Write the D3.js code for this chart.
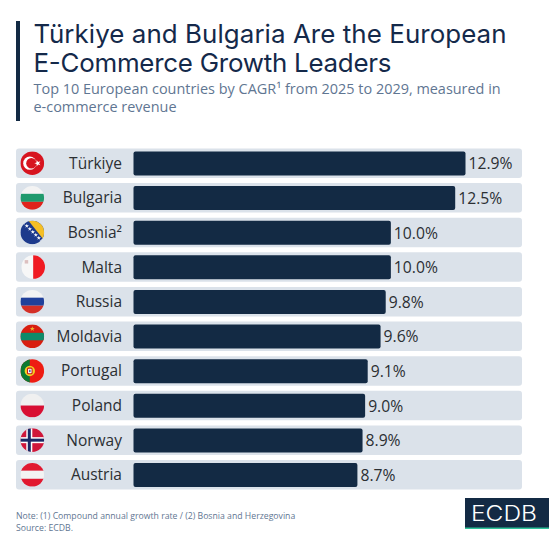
<!DOCTYPE html>
<html>
<head>
<meta charset="utf-8">
<script src="https://cdn.jsdelivr.net/npm/d3@7"></script>
<style>
    html, body { margin: 0; padding: 0; background: #fff; }
    svg { display: block; }
    .title { font-family: Inter, sans-serif; font-size: 25.9px; font-weight: 400; fill: #14294a; }
    .subtitle { font-family: "Open Sans", sans-serif; font-size: 14.45px; fill: #5f7692; }
    .note { font-family: "Open Sans", sans-serif; font-size: 8.7px; fill: #5f7692; }
    .country text { font-family: "Open Sans", sans-serif; font-size: 15.5px; fill: #2b2f33; }
    .value { font-family: "Open Sans", sans-serif; font-size: 15.7px; fill: #2b2f33; }
</style>
</head>
<body>
<script>
// Chart values
const countries = ["Türkiye", "Bulgaria", "Bosnia²", "Malta", "Russia", "Moldavia", "Portugal", "Poland", "Norway", "Austria"];
const cagr = [12.9, 12.5, 10.0, 10.0, 9.8, 9.6, 9.1, 9.0, 8.9, 8.7];

const titleLines = ["Türkiye and Bulgaria Are the European", "E-Commerce Growth Leaders"];
const subtitleLines = ["Top 10 European countries by CAGR¹ from 2025 to 2029, measured in", "e-commerce revenue"];
const noteLines = ["Note: (1) Compound annual growth rate / (2) Bosnia and Herzegovina", "Source: ECDB."];

const navy = "#132a44";
const rowColor = "#dbe2ea";

const svg = d3.select("body").append("svg").attr("width", 549).attr("height", 534);

// Header
svg.append("rect").attr("x", 16).attr("y", 21).attr("width", 4).attr("height", 100).attr("fill", navy);

// the original title font is a bit wider on line 1 than on line 2, so fix both lengths
const titleWidths = [473, 358];
svg.selectAll(".title").data(titleLines).join("text")
    .attr("class", "title")
    .attr("x", 33.5)
    .attr("y", (d, i) => 43 + i * 28.7)
    .attr("textLength", (d, i) => titleWidths[i])
    .text(d => d);

svg.selectAll(".subtitle").data(subtitleLines).join("text")
    .attr("class", "subtitle")
    .attr("x", 33.5)
    .attr("y", (d, i) => 94 + i * 18)
    .text(d => d);

// Scales
const y = d3.scaleBand().domain(countries).range([148.5, 489.5]).paddingInner(0.15).paddingOuter(0);
const x = d3.scaleLinear().domain([0, 12.9]).range([133.5, 465.5]);

// Rows behind the bars
svg.selectAll(".row").data(countries).join("rect")
    .attr("class", "row")
    .attr("x", 16)
    .attr("y", d => y(d))
    .attr("width", 506)
    .attr("height", y.bandwidth())
    .attr("rx", 3)
    .attr("fill", rowColor);

// Bars
const barGap = 3;
svg.selectAll(".bar").data(cagr).join("rect")
    .attr("class", "bar")
    .attr("x", x(0))
    .attr("y", (d, i) => y(countries[i]) + barGap)
    .attr("width", d => x(d) - x(0))
    .attr("height", y.bandwidth() - barGap * 2 + 0.5)
    .attr("rx", 2)
    .attr("fill", navy);

svg.selectAll(".value").data(cagr).join("text")
    .attr("class", "value")
    .attr("x", d => x(d) + 3)
    .attr("y", (d, i) => y(countries[i]) + y.bandwidth() / 2 + 0.5)
    .attr("dy", "0.36em")
    .text(d => d.toFixed(1) + "%");

// Country labels
svg.append("g")
    .attr("class", "country")
    .attr("transform", "translate(122,0.5)")
    .call(d3.axisLeft(y).tickSize(0).tickPadding(0))
    .call(g => g.select(".domain").remove());

// Flags, each one drawn in a box of 24x24 and clipped to a circle
const stripes = (g, colors) => {
    colors.forEach((c, i) => {
        g.append("rect").attr("x", -12).attr("y", -12 + i * 24 / colors.length)
            .attr("width", 24).attr("height", 24 / colors.length).attr("fill", c);
    });
};

const flags = {
    "Türkiye": g => {
        g.append("rect").attr("x", -12).attr("y", -12).attr("width", 24).attr("height", 24).attr("fill", "#d7141f");
        g.append("circle").attr("cx", -2.5).attr("r", 6.6).attr("fill", "#fff");
        g.append("circle").attr("cx", -0.9).attr("r", 5.2).attr("fill", "#d7141f");
        g.append("path").attr("d", d3.symbol(d3.symbolStar, 13)).attr("transform", "translate(5.4,0) rotate(-90)").attr("fill", "#fff");
    },
    "Bulgaria": g => stripes(g, ["#f3f3f3", "#1f9a6d", "#e0231c"]),
    "Bosnia²": g => {
        g.append("rect").attr("x", -12).attr("y", -12).attr("width", 24).attr("height", 24).attr("fill", "#1d3a8c");
        g.append("path").attr("d", "M-4,-12L12,-12L12,8Z").attr("fill", "#f5bf26");
        d3.range(7).forEach(i => {
            g.append("path").attr("d", d3.symbol(d3.symbolStar, 6))
                .attr("transform", `translate(${-8.5 + i * 3},${-9.5 + i * 3})`).attr("fill", "#fff");
        });
    },
    "Malta": g => {
        g.append("rect").attr("x", -12).attr("y", -12).attr("width", 12).attr("height", 24).attr("fill", "#f7f7f7");
        g.append("rect").attr("x", 0).attr("y", -12).attr("width", 12).attr("height", 24).attr("fill", "#f01a22");
        g.append("rect").attr("x", -8.5).attr("y", -7).attr("width", 3.5).attr("height", 3.5).attr("fill", "#dcc0c0");
    },
    "Russia": g => stripes(g, ["#f3f3f3", "#20409a", "#d42f26"]),
    "Moldavia": g => {
        g.append("rect").attr("x", -12).attr("y", -12).attr("width", 24).attr("height", 24).attr("fill", "#d81e10");
        g.append("rect").attr("x", -12).attr("y", -3.5).attr("width", 24).attr("height", 7.5).attr("fill", "#0f8a6a");
        g.append("path").attr("d", d3.symbol(d3.symbolStar, 8)).attr("transform", "translate(0,-7.5)").attr("fill", "#e9b82f");
    },
    "Portugal": g => {
        g.append("rect").attr("x", -12).attr("y", -12).attr("width", 24).attr("height", 24).attr("fill", "#ee1c12");
        g.append("rect").attr("x", -12).attr("y", -12).attr("width", 9.5).attr("height", 24).attr("fill", "#0b7a32");
        g.append("circle").attr("cx", -2.5).attr("r", 5.2).attr("fill", "#f2d022");
        g.append("rect").attr("x", -4.8).attr("y", -2.8).attr("width", 4.6).attr("height", 5.6).attr("rx", 1).attr("fill", "#fff").attr("stroke", "#cc1a14").attr("stroke-width", 1.1);
        g.append("rect").attr("x", -3.3).attr("y", -1.2).attr("width", 1.6).attr("height", 2.4).attr("fill", "#4a62a8");
    },
    "Poland": g => stripes(g, ["#f0f0f0", "#d80f33"]),
    "Norway": g => {
        g.append("rect").attr("x", -12).attr("y", -12).attr("width", 24).attr("height", 24).attr("fill", "#d0173a");
        g.append("rect").attr("x", -12).attr("y", -3).attr("width", 24).attr("height", 6).attr("fill", "#fff");
        g.append("rect").attr("x", -6).attr("y", -12).attr("width", 6).attr("height", 24).attr("fill", "#fff");
        g.append("rect").attr("x", -12).attr("y", -1.5).attr("width", 24).attr("height", 3).attr("fill", "#1c2a66");
        g.append("rect").attr("x", -4.5).attr("y", -12).attr("width", 3).attr("height", 24).attr("fill", "#1c2a66");
    },
    "Austria": g => stripes(g, ["#e11930", "#f3f3f3", "#e11930"])
};

svg.append("defs").append("clipPath").attr("id", "flag-clip")
    .append("circle").attr("r", 11.8);

const flagX = { "Malta": 33.2 };
countries.forEach(c => {
    const g = svg.append("g")
        .attr("transform", `translate(${flagX[c] || 32.3},${y(c) + y.bandwidth() / 2})`)
        .append("g").attr("clip-path", "url(#flag-clip)");
    flags[c](g);
});

// Footer
svg.selectAll(".note").data(noteLines).join("text")
    .attr("class", "note")
    .attr("x", 16)
    .attr("y", (d, i) => 518.5 + i * 12.5)
    .text(d => d);

// Logo
svg.append("rect").attr("x", 465).attr("y", 498).attr("width", 84).attr("height", 31).attr("fill", navy);
svg.append("rect").attr("x", 465).attr("y", 527.5).attr("width", 84).attr("height", 1.5).attr("fill", "#2fc39a");
svg.append("text")
    .attr("x", 471).attr("y", 521)
    .attr("font-family", "Inter, sans-serif").attr("font-size", 21).attr("font-weight", 300)
    .attr("textLength", 66).attr("lengthAdjust", "spacingAndGlyphs").attr("fill", "#fff")
    .text("ECDB");
</script>
</body>
</html>
